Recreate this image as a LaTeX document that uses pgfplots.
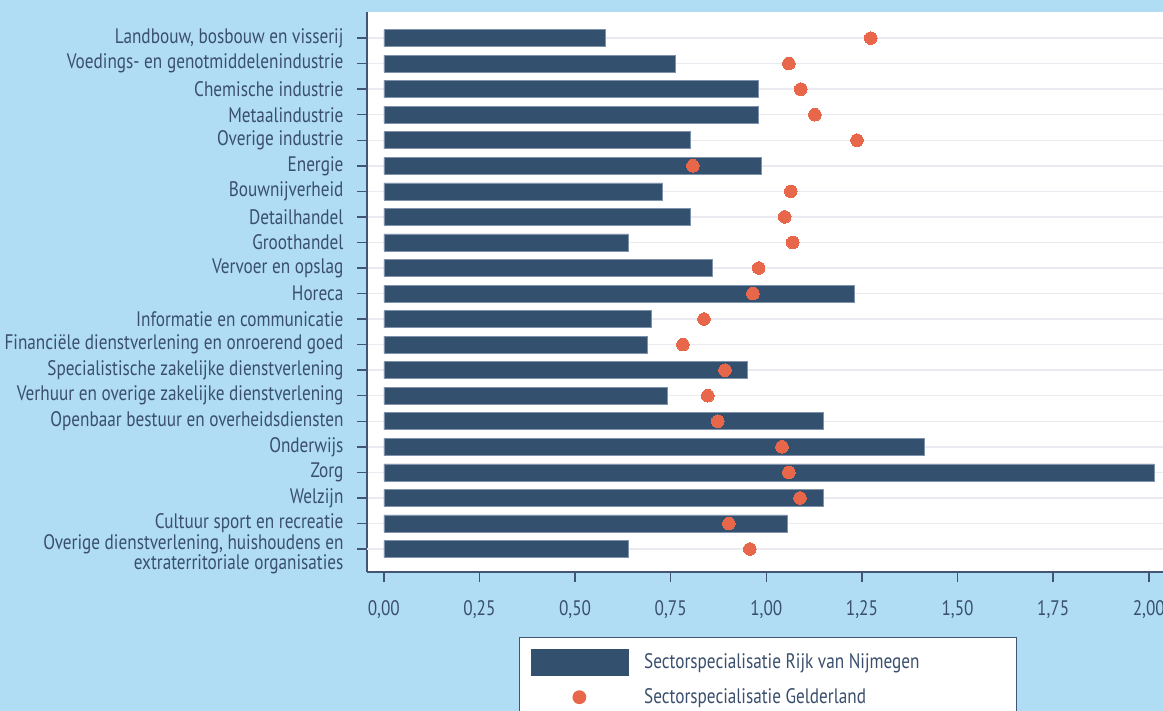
\documentclass[border=0pt]{standalone}
\usepackage{fontspec}
\setmainfont{PT Sans}[FakeStretch=0.82]
\usepackage{pgfplots}
\pgfplotsset{compat=1.18}
\definecolor{bgblue}{HTML}{B0DDF4}
\definecolor{navy}{HTML}{34506F}
\definecolor{baredge}{HTML}{7F92AB}
\definecolor{dotor}{HTML}{E8674A}
\definecolor{gridc}{HTML}{EAEAF0}
\definecolor{txt}{HTML}{3A4F6D}
\definecolor{axc}{HTML}{405674}
\begin{document}
\begin{tikzpicture}
\useasboundingbox (0pt,0pt) rectangle (1163pt,-711pt);
\fill[bgblue] (0pt,0pt) rectangle (1163pt,-711pt);
\begin{axis}[
  at={(367pt,-572pt)}, anchor=south west,
  scale only axis, width=796pt, height=560pt,
  xmin=-0.044, xmax=2.037, ymin=-1.02, ymax=20.9, y dir=reverse,
  axis x line*=bottom, axis y line*=left,
  axis line style={draw=axc, line width=1.5pt},
  axis background/.style={fill=white},
  tick align=outside, major tick length=10pt,
  tick style={draw=axc, line width=1.5pt},
  xtick={0,0.25,0.5,0.75,1,1.25,1.5,1.75,2},
  /pgf/number format/.cd, use comma, fixed, fixed zerofill, precision=2, assume math mode=true, /pgfplots/.cd,
  ytick={0,...,19},
  yticklabels={Landbouw{,} bosbouw en visserij, Voedings- en genotmiddelenindustrie, Chemische industrie, Metaalindustrie, Overige industrie, Energie, Bouwnijverheid, Detailhandel, Groothandel, Vervoer en opslag, Horeca, Informatie en communicatie, Financiële dienstverlening en onroerend goed, Specialistische zakelijke dienstverlening, Verhuur en overige zakelijke dienstverlening, Openbaar bestuur en overheidsdiensten, Onderwijs, Zorg, Welzijn, Cultuur sport en recreatie},
  extra y ticks={20},
  extra y tick labels={Overige dienstverlening{,} huishoudens en\\extraterritoriale organisaties},
  extra y tick style={yticklabel style={yshift=-5pt}, grid=major},
  yticklabel style={align=right, font=\fontsize{21}{20}\selectfont, text=txt, xshift=-10pt},
  xticklabel style={font=\fontsize{21}{20}\selectfont, text=txt, yshift=-15pt},
  ymajorgrids, grid style={draw=gridc, line width=1.5pt},
  legend style={at={(0.19095,-0.11607)}, anchor=north west, draw=axc, line width=1.2pt, fill=white,
    inner xsep=11pt, inner ysep=11pt, row sep=9pt, font=\fontsize{21}{20}\selectfont, text=txt},
  legend cell align=left,
]
\addplot[xbar, bar width=17pt, fill=navy, draw=baredge, line width=0.6pt,
  legend image code/.code={\fill[navy] (0pt,-13pt) rectangle (97pt,13pt);}]
coordinates {
(0.580,0) (0.763,1) (0.978,2) (0.978,3) (0.800,4) (0.988,5) (0.729,6) (0.800,7) (0.638,8) (0.860,9)
(1.229,10) (0.698,11) (0.690,12) (0.949,13) (0.740,14) (1.148,15) (1.412,16) (2.013,17) (1.148,18) (1.054,19) (0.638,20)};
\addplot[only marks, mark=*, mark size=6.3pt, mark options={fill=dotor, draw=dotor, line width=0pt},
  legend image code/.code={\path[draw=none,fill=none] (0pt,-13pt) rectangle (97pt,13pt); \fill[dotor] (48.5pt,0pt) circle (6.3pt);}]
coordinates {
(1.273,0) (1.059,1) (1.090,2) (1.127,3) (1.237,4) (0.808,5) (1.064,6) (1.048,7) (1.069,8) (0.980,9)
(0.965,10) (0.837,11) (0.782,12) (0.892,13) (0.847,14) (0.873,15) (1.041,16) (1.059,17) (1.088,18) (0.902,19) (0.957,20)};
\legend{\makebox[373pt][l]{\hspace*{14pt}Sectorspecialisatie Rijk van Nijmegen}, \makebox[373pt][l]{\hspace*{14pt}Sectorspecialisatie Gelderland}}
\end{axis}
\end{tikzpicture}
\end{document}
